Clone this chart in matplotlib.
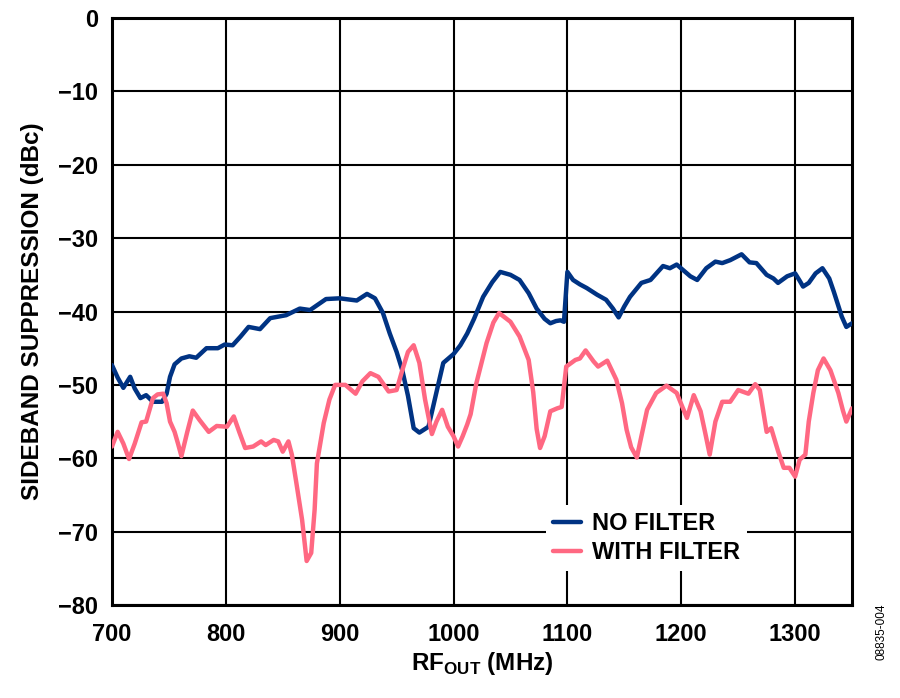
import matplotlib
matplotlib.use('Agg')
from matplotlib import pyplot as plt
from matplotlib.ticker import MultipleLocator

# NO FILTER curve (MHz, dBc)
freq_nf = [700, 705, 710, 716, 720, 725, 730, 736, 744, 748, 751, 755, 761, 768, 774, 783,
           793, 799, 806, 813, 820, 830, 839, 853, 865, 874, 888, 900, 915, 924, 931, 938,
           944, 950, 955, 960, 965, 970, 978, 985, 991, 1000, 1006, 1012, 1018, 1026, 1034,
           1041, 1050, 1058, 1066, 1073, 1080, 1085, 1090, 1094, 1097, 1100, 1105, 1111,
           1117, 1126, 1134, 1140, 1145, 1150, 1155, 1165, 1173, 1184, 1190, 1196, 1202,
           1208, 1214, 1222, 1230, 1236, 1243, 1253, 1260, 1266, 1275, 1281, 1285, 1293,
           1300, 1304, 1307, 1312, 1318, 1324, 1330, 1334, 1341, 1345, 1350]
sup_nf = [-47.3, -49.0, -50.4, -48.9, -50.5, -51.8, -51.4, -52.3, -52.3, -51.2, -48.9, -47.2,
          -46.4, -46.1, -46.3, -45.0, -45.0, -44.5, -44.6, -43.4, -42.1, -42.4, -40.9, -40.5,
          -39.6, -39.8, -38.3, -38.2, -38.5, -37.6, -38.2, -40.2, -43.0, -45.5, -48.0, -51.5,
          -55.9, -56.5, -55.7, -51.0, -47.0, -45.8, -44.6, -43.0, -41.0, -38.0, -36.0, -34.6,
          -35.0, -35.7, -37.5, -39.6, -41.0, -41.6, -41.3, -41.2, -41.4, -34.6, -35.7, -36.3,
          -36.8, -37.7, -38.4, -39.6, -40.8, -39.3, -38.0, -36.1, -35.7, -33.8, -34.1, -33.6,
          -34.4, -35.2, -35.7, -34.1, -33.2, -33.4, -33.0, -32.2, -33.3, -33.4, -35.0, -35.5,
          -36.1, -35.2, -34.8, -35.8, -36.6, -36.1, -34.8, -34.1, -35.5, -37.3, -40.7, -42.1,
          -41.6]

# WITH FILTER curve (MHz, dBc)
freq_wf = [700, 705, 710, 715, 720, 726, 730, 736, 740, 745, 748, 751, 755, 758, 761, 766,
           771, 777, 785, 792, 801, 807, 812, 817, 824, 831, 835, 842, 846, 850, 855, 858,
           862, 867, 871, 875, 878, 880, 886, 891, 896, 905, 914, 920, 927, 934, 943, 950,
           955, 960, 965, 970, 975, 981, 985, 990, 995, 1000, 1004, 1008, 1012, 1015, 1020,
           1029, 1035, 1040, 1050, 1058, 1066, 1070, 1073, 1076, 1080, 1085, 1091, 1095,
           1099, 1107, 1111, 1116, 1123, 1127, 1135, 1143, 1148, 1152, 1156, 1161, 1165,
           1170, 1178, 1187, 1196, 1201, 1205, 1211, 1217, 1221, 1225, 1230, 1236, 1243,
           1250, 1259, 1265, 1269, 1275, 1279, 1285, 1290, 1295, 1300, 1304, 1309, 1312,
           1316, 1320, 1325, 1331, 1338, 1342, 1345, 1350]
sup_wf = [-58.4, -56.4, -58.0, -60.1, -58.0, -55.1, -55.0, -51.8, -51.3, -51.2, -52.5, -55.0,
          -56.4, -58.0, -59.7, -56.5, -53.5, -54.8, -56.4, -55.6, -55.7, -54.3, -56.5, -58.6,
          -58.4, -57.7, -58.2, -57.5, -57.7, -59.1, -57.7, -59.5, -63.4, -68.4, -74.0, -72.9,
          -67.0, -60.7, -55.2, -52.0, -50.0, -50.0, -51.2, -49.5, -48.4, -48.9, -50.9, -50.7,
          -48.0, -45.5, -44.6, -47.0, -52.0, -56.7, -55.0, -53.4, -55.7, -57.0, -58.4, -57.0,
          -55.4, -54.0, -49.8, -44.3, -41.5, -40.2, -41.4, -43.4, -46.6, -51.0, -56.0, -58.6,
          -57.0, -53.6, -53.2, -53.0, -47.5, -46.6, -46.4, -45.3, -46.8, -47.5, -46.7, -49.3,
          -52.5, -56.1, -58.5, -59.9, -57.0, -53.4, -51.1, -50.1, -51.1, -53.0, -54.5, -51.4,
          -53.6, -56.5, -59.5, -55.0, -52.3, -52.3, -50.7, -51.2, -49.9, -50.7, -56.4, -55.9,
          -59.0, -61.3, -61.3, -62.5, -60.2, -59.5, -55.0, -51.1, -48.0, -46.4, -48.0, -51.1,
          -53.5, -55.0, -53.2]

y_ticks = list(range(-80, 1, 10))

plt.rcParams['font.family'] = ['Liberation Sans', 'DejaVu Sans']
plt.rcParams['font.weight'] = 'bold'
plt.rcParams['mathtext.fontset'] = 'custom'
plt.rcParams['mathtext.bf'] = 'Liberation Sans:bold'
plt.rcParams['mathtext.rm'] = 'Liberation Sans:bold'

fig = plt.figure(figsize=(9, 6.98), dpi=100)
ax = fig.add_axes([0.1244, 0.1332, 0.8223, 0.841])

ax.plot(freq_nf, sup_nf, color='#003383', lw=3.2, solid_capstyle='round',
        solid_joinstyle='round', label='NO FILTER', zorder=3)
ax.plot(freq_wf, sup_wf, color='#FF6882', lw=3.2, solid_capstyle='round',
        solid_joinstyle='round', label='WITH FILTER', zorder=3)

ax.set_xlim(700, 1350)
ax.set_ylim(-80, 0)
ax.xaxis.set_major_locator(MultipleLocator(100))
ax.grid(color='black', lw=1.5)
ax.set_axisbelow(True)
for s in ax.spines.values():
    s.set_linewidth(2.2)
ax.tick_params(length=0, labelsize=17)
ax.tick_params(axis='x', pad=13)
ax.tick_params(axis='y', pad=10)
ax.set_yticks(y_ticks)
ax.set_yticklabels([('\u2212%d' % -v) if v < 0 else '0' for v in y_ticks])
for lab in ax.get_xticklabels() + ax.get_yticklabels():
    lab.set_fontweight('bold')

ax.set_ylabel('SIDEBAND SUPPRESSION (dBc)', fontsize=17.5, fontweight='bold', labelpad=10)
ax.set_xlabel(r'RF$_{\mathbf{OUT}}$ (MHz)', fontsize=17.5, fontweight='bold', labelpad=3)

leg = ax.legend(loc='upper left', bbox_to_anchor=(0.57, 0.19), frameon=True,
                fancybox=False, edgecolor='none', facecolor='white', framealpha=1,
                handlelength=1.2, handletextpad=0.45, borderpad=0.3, labelspacing=0.25,
                prop={'size': 17, 'weight': 'bold'})
leg.set_zorder(4)

fig.text(0.979, 0.054, '08835-004', rotation=90, fontsize=8.5, fontweight='normal',
         ha='center', va='bottom')

fig.savefig('out.png', dpi=100)
